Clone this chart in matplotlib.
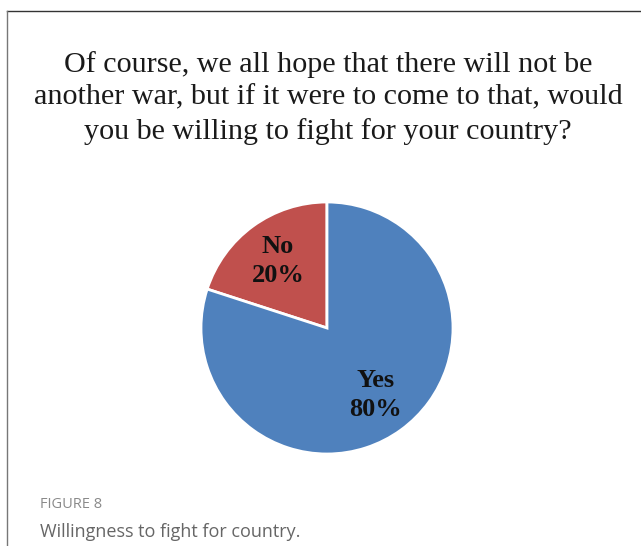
import matplotlib
matplotlib.use("Agg")
import matplotlib.pyplot as plt
from matplotlib.lines import Line2D

# data
labels = ["No", "Yes"]
values = [20, 80]
colors = ["#C0504D", "#4F81BD"]
title = ("Of course, we all hope that there will not be\n"
         "another war, but if it were to come to that, would\n"
         "you be willing to fight for your country?")
fig_label = "FIGURE 8"
caption = "Willingness to fight for country."

W, H = 641, 546
fig = plt.figure(figsize=(W / 100, H / 100), dpi=100)

# frame lines (top and left only)
fig.add_artist(Line2D([7 / W, 1], [1 - 11 / H, 1 - 11 / H], color="#333333", lw=1.0))
fig.add_artist(Line2D([7 / W, 7 / W], [1 - 11 / H, 0], color="#777777", lw=1.0))

fig.text(328 / W, 1 - 98 / H, title, ha="center", va="center",
         family="Liberation Serif", fontsize=21.7, color="#1a1a1a", linespacing=1.36)

# pie
cx, cy, r = 327, 328, 126
ax = fig.add_axes([(cx - r) / W, 1 - (cy + r) / H, 2 * r / W, 2 * r / H])
names = iter(labels)
wedges, texts, autotexts = ax.pie(
    values, colors=colors, startangle=90, counterclock=True,
    wedgeprops=dict(edgecolor="white", linewidth=2),
    autopct=lambda p: f"{next(names)}\n{p:.0f}%", pctdistance=0.66,
    textprops=dict(family="Liberation Serif", fontsize=19, fontweight="bold", color="#111111"),
)
for t in autotexts:
    t.set_linespacing(1.35)
ax.set_xlim(-1, 1)
ax.set_ylim(-1, 1)
ax.set_aspect("equal")
ax.axis("off")

fig.text(40 / W, 1 - 505 / H, fig_label, ha="left", va="center",
         family="Open Sans", fontsize=10.5, color="#8a8a8a")
fig.text(40 / W, 1 - 532 / H, caption, ha="left", va="center",
         family="Open Sans", fontsize=13, color="#666666")

fig.savefig("out.png", dpi=100)
